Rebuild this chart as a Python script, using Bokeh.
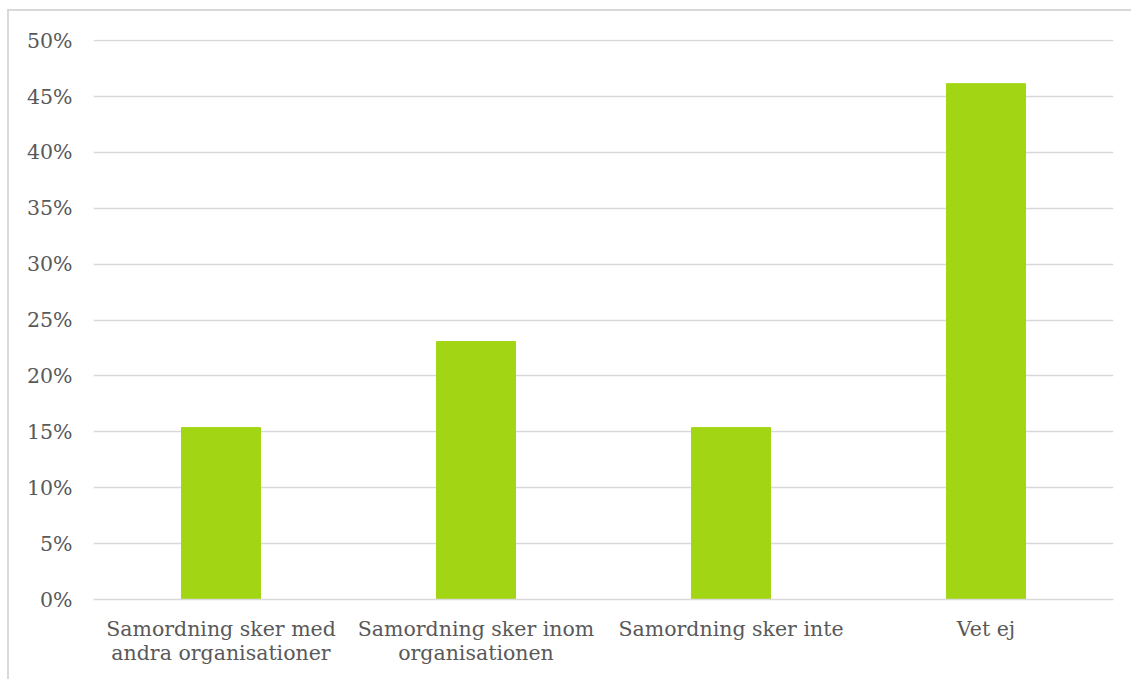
from bokeh.plotting import figure
from bokeh.models import FixedTicker, NumeralTickFormatter, Range1d, LinearAxis
from bokeh.layouts import column
from bokeh.embed import file_html
from bokeh.resources import INLINE

categories = ["Samordning sker med andra organisationer", "Samordning sker inom organisationen",
              "Samordning sker inte", "Vet ej"]
label_line1 = ["Samordning sker med", "Samordning sker inom", "Samordning sker inte", "Vet ej"]
label_line2 = ["andra organisationer", "organisationen", " ", " "]
values = [0.1538, 0.2308, 0.1538, 0.4615]
y_ticks = [0, 0.05, 0.10, 0.15, 0.20, 0.25, 0.30, 0.35, 0.40, 0.45, 0.50]

FONT = "DejaVu Serif"
TXT = "#595959"
GRID = "#D9D9D9"
FS = "20.5px"

xpos = [i + 0.5 for i in range(len(categories))]

p = figure(x_range=Range1d(0, len(categories)), y_range=Range1d(0, 0.501), width=1122, height=668,
           output_backend="svg", toolbar_location=None,
           min_border_left=84, min_border_right=18, min_border_top=28, min_border_bottom=80)
p.vbar(x=xpos, top=values, width=0.31, color="#A2D614")

p.outline_line_color = None
p.xgrid.grid_line_color = None
p.ygrid.grid_line_color = GRID
p.ygrid.grid_line_width = 1.5
p.yaxis.ticker = FixedTicker(ticks=y_ticks)
p.yaxis.formatter = NumeralTickFormatter(format="0%")
p.yaxis.axis_line_color = None
p.yaxis.major_tick_line_color = None
p.yaxis.minor_tick_line_color = None
p.yaxis.major_label_standoff = 15
p.yaxis.major_label_text_font = FONT
p.yaxis.major_label_text_font_size = FS
p.yaxis.major_label_text_color = TXT

ax1 = p.below[0]
ax1.ticker = FixedTicker(ticks=xpos)
ax1.axis_line_color = GRID
ax1.axis_line_width = 1.5
ax1.major_tick_line_color = None
ax1.minor_tick_line_color = None
ax1.major_tick_out = 0
ax1.minor_tick_out = 0
ax1.major_label_standoff = 17
ax1.major_label_overrides = {x: t for x, t in zip(xpos, label_line1)}

ax2 = LinearAxis(ticker=FixedTicker(ticks=xpos), axis_line_color=None, major_tick_line_color=None,
                 minor_tick_line_color=None, major_tick_out=0, minor_tick_out=0,
                 major_label_standoff=-3)
ax2.major_label_overrides = {x: t for x, t in zip(xpos, label_line2)}
p.add_layout(ax2, "below")

for ax in (ax1, ax2):
    ax.major_label_text_font = FONT
    ax.major_label_text_font_size = FS
    ax.major_label_text_color = TXT

layout = column(p, styles={"border-left": "2px solid #D9D9D9", "border-top": "2px solid #D9D9D9",
                           "margin-left": "7px", "margin-top": "9px"})

open("out.html", "w").write(file_html(layout, INLINE))
